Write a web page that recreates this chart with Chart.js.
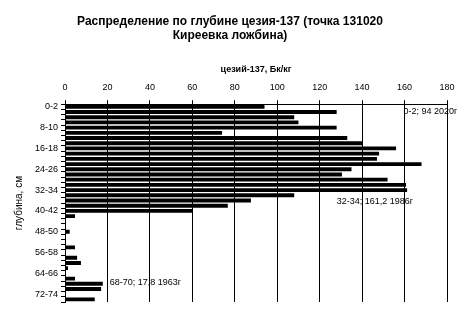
<!DOCTYPE html>
<html>
<head>
<meta charset="utf-8">
<script src="https://cdn.jsdelivr.net/npm/chart.js@4/dist/chart.umd.min.js"></script>
<style>
html,body{margin:0;padding:0;background:#fff;}
#wrap{width:466px;height:312px;}
</style>
</head>
<body>
<div id="wrap"><canvas id="c" width="466" height="312"></canvas></div>
<script>
// Depth intervals, cm
const depths = ['0-2','2-4','4-6','6-8','8-10','10-12','12-14','14-16','16-18','18-20',
  '20-22','22-24','24-26','26-28','28-30','30-32','32-34','34-36','36-38','38-40',
  '40-42','42-44','44-46','46-48','48-50','50-52','52-54','54-56','56-58','58-60',
  '60-62','62-64','64-66','66-68','68-70','70-72','72-74','74-76'];
// Cs-137 activity, Bq/kg
const cesium = [94,128,108,110,128,74,133,140,156,148,
  147,168,135,130.5,152,160.7,161.2,108,87.6,76.7,
  60,4.7,0,0,2.2,0,0,4.7,0,5.7,
  7.5,1.4,0,4.7,17.8,17,0,14];
const xTicks = [0,20,40,60,80,100,120,140,160,180];
const annTexts = ['0-2; 94 2020г','32-34; 161,2 1986г','68-70; 17,8 1963г'];
const annValues = [160,128,17.8];
const annCats = ['2-4','36-38','68-70'];

const FONT = "'Liberation Sans', Arial, sans-serif";
const annOffsets = [{dx:-1,dy:0},{dx:0,dy:1},{dx:7,dy:-1}];

const annotate = {
  id:'annotate',
  afterDatasetsDraw(chart){
    const ctx = chart.ctx, xs = chart.scales.x, ys = chart.scales.y;
    ctx.save();
    ctx.font = '9px ' + FONT;
    ctx.fillStyle = '#000';
    ctx.textBaseline = 'middle';
    ctx.textAlign = 'left';
    annTexts.forEach((t,i)=>{
      const x = xs.getPixelForValue(annValues[i]) + annOffsets[i].dx;
      const y = ys.getPixelForValue(depths.indexOf(annCats[i])) + annOffsets[i].dy;
      ctx.fillText(t, x, y);
    });
    ctx.restore();
  }
};

new Chart(document.getElementById('c'), {
  type:'bar',
  data:{labels:depths, datasets:[{data:cesium, backgroundColor:'#000', borderWidth:0,
    barPercentage:0.74, categoryPercentage:1}]},
  options:{
    indexAxis:'y',
    responsive:false,
    animation:false,
    layout:{padding:{left:13,right:19,top:15,bottom:10}},
    plugins:{
      legend:{display:false},
      tooltip:{enabled:false},
      title:{display:true, text:['Распределение по глубине цезия-137 (точка 131020','Киреевка ложбина)'],
        color:'#000', font:{family:FONT, size:12, weight:'bold', lineHeight:1.15}, padding:{top:0,bottom:22}}
    },
    scales:{
      x:{position:'top', min:0, max:180, afterBuildTicks(s){ s.ticks = xTicks.map(v=>({value:v})); },
        ticks:{color:'#000', font:{family:FONT,size:9}, padding:7},
        grid:{color:'#000', lineWidth:1, tickLength:4, drawOnChartArea:true},
        border:{display:true,color:'#000'},
        title:{display:true, text:'цезий-137, Бк/кг', color:'#000', font:{family:FONT,size:9,weight:'bold'}, padding:{top:0,bottom:0}}
      },
      y:{offset:true,
        ticks:{autoSkip:false, color:'#000', font:{family:FONT,size:9}, padding:3,
          callback(v,i){ return i%4===0 ? depths[i] : ''; }},
        grid:{offset:true, drawOnChartArea:false, color:'#000', tickLength:4},
        border:{display:true,color:'#000'},
        title:{display:true, text:'глубина, см', color:'#000', font:{family:FONT,size:10}, padding:{top:0,bottom:7}}
      }
    }
  },
  plugins:[annotate]
});
</script>
</body>
</html>
